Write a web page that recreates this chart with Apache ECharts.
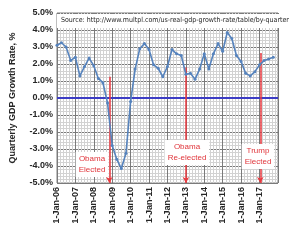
<!DOCTYPE html>
<html>
<head>
<meta charset="utf-8">
<script src="https://cdn.jsdelivr.net/npm/echarts@6/dist/echarts.min.js"></script>
<style>
html,body{margin:0;padding:0;background:#fff;}
#chart{width:300px;height:240px;}
</style>
</head>
<body>
<div id="chart"></div>
<script>
// Quarter-end dates and year-over-year real GDP growth (%)
var quarterDates = [
  '2005-12-31','2006-03-31','2006-06-30','2006-09-30','2006-12-31',
  '2007-03-31','2007-06-30','2007-09-30','2007-12-31',
  '2008-03-31','2008-06-30','2008-09-30','2008-12-31',
  '2009-03-31','2009-06-30','2009-09-30','2009-12-31',
  '2010-03-31','2010-06-30','2010-09-30','2010-12-31',
  '2011-03-31','2011-06-30','2011-09-30','2011-12-31',
  '2012-03-31','2012-06-30','2012-09-30','2012-12-31',
  '2013-03-31','2013-06-30','2013-09-30','2013-12-31',
  '2014-03-31','2014-06-30','2014-09-30','2014-12-31',
  '2015-03-31','2015-06-30','2015-09-30','2015-12-31',
  '2016-03-31','2016-06-30','2016-09-30','2016-12-31',
  '2017-03-31','2017-06-30','2017-09-30'
];
var gdpGrowth = [
  3.1, 3.25, 3.0, 2.2, 2.4,
  1.3, 1.85, 2.35, 1.9,
  1.15, 0.9, -0.3, -2.8,
  -3.6, -4.15, -3.25, -0.2,
  1.7, 2.9, 3.2, 2.85,
  1.95, 1.75, 1.25, 1.85,
  2.85, 2.6, 2.5, 1.4,
  1.45, 1.1, 1.7, 2.6,
  1.7, 2.6, 3.2, 2.75,
  3.85, 3.5, 2.5, 2.15,
  1.45, 1.3, 1.55, 1.95,
  2.2, 2.3, 2.4
];
// Election annotations
var eventDates = ['2008-11-04', '2013-01-01', '2017-01-15'];
var eventTops = [1.25, 1.8, 2.65];
var eventLabels = ['Obama\nElected', 'Obama\nRe-elected', 'Trump\nElected'];
// Axis ticks
var yTicks = [-5, -4, -3, -2, -1, 0, 1, 2, 3, 4, 5];
var xStartYear = 2006, xEndYear = 2018;

function toTime(s) {
  var p = s.split('-');
  return new Date(+p[0], +p[1] - 1, +p[2]).getTime();
}

var lineData = quarterDates.map(function (d, i) { return [toTime(d), gdpGrowth[i]]; });

var markLines = [
  [{ coord: [new Date(xStartYear,0,1).getTime(), 0], symbol: 'none', lineStyle: { color: '#3c3cc4', width: 2, type: 'solid' } },
   { coord: [new Date(xEndYear,0,1).getTime(), 0], symbol: 'none' }]
];
eventDates.forEach(function (d, i) {
  markLines.push([
    { coord: [toTime(d), eventTops[i]], symbol: 'none', lineStyle: { color: '#e8393f', width: 1.5, type: 'solid' } },
    { coord: [toTime(d), yTicks[0]], symbol: 'arrow', symbolSize: [5, 6] }
  ]);
});

var FONT = '"Liberation Sans", Arial, sans-serif';
var chart = echarts.init(document.getElementById('chart'), null, { renderer: 'canvas' });

function annot(txt, cx, top) {
  return {
    type: 'text', z: 100, x: cx, y: top,
    style: {
      text: txt, fontSize: 8, fontFamily: FONT, fill: '#e0353b', align: 'center', verticalAlign: 'top',
      lineHeight: 10.5, backgroundColor: '#ffffff', padding: [2, 3, 2, 3]
    }
  };
}

chart.setOption({
  animation: false,
  backgroundColor: '#ffffff',
  grid: { left: 56, right: 22, top: 13, bottom: 57, show: true, borderColor: '#7f7f7f', borderWidth: 1 },
  xAxis: {
    type: 'time',
    min: new Date(xStartYear,0,1).getTime(),
    max: new Date(xEndYear,0,1).getTime(),
    minInterval: 365 * 86400000,
    maxInterval: 366 * 86400000,
    splitNumber: 12,
    axisLine: { show: false },
    axisTick: { show: false },
    axisLabel: {
      rotate: 90,
      fontSize: 9,
      fontWeight: 'bold',
      color: '#262626',
      fontFamily: FONT,
      margin: 4,
      showMaxLabel: false,
      formatter: function (v) {
        var y = new Date(v).getFullYear() % 100;
        return '1-Jan-' + (y < 10 ? '0' + y : y);
      }
    },
    splitLine: { show: true, lineStyle: { color: '#7a7a7a', width: 1 } },
    minorTick: { show: false, splitNumber: 6 },
    minorSplitLine: { show: true, lineStyle: { color: '#d2d2d2', width: 1 } }
  },
  yAxis: {
    type: 'value',
    min: yTicks[0],
    max: yTicks[yTicks.length - 1],
    interval: 1,
    name: 'Quarterly GDP Growth Rate, %',
    nameLocation: 'middle',
    nameGap: 40,
    nameTextStyle: { fontSize: 9, fontWeight: 'bold', color: '#262626', fontFamily: FONT },
    axisLine: { show: false },
    axisTick: { show: false },
    axisLabel: {
      fontSize: 9, fontWeight: 'bold', color: '#262626', fontFamily: FONT, margin: 4,
      formatter: function (v) { return v.toFixed(1) + '%'; }
    },
    splitLine: { show: true, lineStyle: { color: '#7a7a7a', width: 1 } },
    minorTick: { show: false, splitNumber: 5 },
    minorSplitLine: { show: true, lineStyle: { color: '#d2d2d2', width: 1 } }
  },
  series: [{
    type: 'line',
    data: lineData,
    symbol: 'circle',
    symbolSize: 3,
    showSymbol: true,
    lineStyle: { color: '#5683bd', width: 1.6 },
    itemStyle: { color: '#5683bd' },
    z: 5,
    markLine: {
      silent: true,
      animation: false,
      label: { show: false },
      data: markLines
    }
  }],
  graphic: [
    {
      type: 'text', z: 100, left: 57, top: 14,
      style: {
        text: 'Source: http://www.multpl.com/us-real-gdp-growth-rate/table/by-quarter',
        fontSize: 7, fontFamily: '"Liberation Sans Narrow", "DejaVu Sans Condensed", Arial, sans-serif',
        fill: '#262626', backgroundColor: '#ffffff', padding: [3, 4, 4, 4], width: 220
      }
    },
    annot(eventLabels[0], 92, 152),
    annot(eventLabels[1], 187, 140),
    annot(eventLabels[2], 258, 144)
  ]
});
</script>
</body>
</html>
